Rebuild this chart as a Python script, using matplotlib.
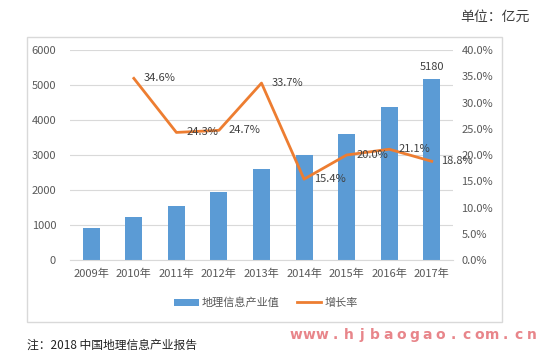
import matplotlib
matplotlib.use("Agg")
import matplotlib.pyplot as plt
from matplotlib.patches import Rectangle
from matplotlib.ticker import FuncFormatter

plt.rcParams['font.family'] = ['Noto Sans CJK SC', 'DejaVu Sans']

years = ["2009年", "2010年", "2011年", "2012年", "2013年", "2014年", "2015年", "2016年", "2017年"]
output_value = [920, 1240, 1540, 1930, 2600, 3000, 3600, 4360, 5180]
rate_years = ["2010年", "2011年", "2012年", "2013年", "2014年", "2015年", "2016年", "2017年"]
growth_rate = [34.6, 24.3, 24.7, 33.7, 15.4, 20.0, 21.1, 18.8]

bar_color = "#5b9bd5"
line_color = "#ed7d31"
text_color = "#595959"
grid_color = "#d9d9d9"

fig = plt.figure(figsize=(5.39, 3.62), dpi=100)
fig.patch.set_facecolor("white")

# chart frame
frame = Rectangle((27/539, 1-322/362), (502-27)/539, (322-37)/362, transform=fig.transFigure,
                  fill=False, edgecolor="#d9d9d9", linewidth=1.0)
fig.add_artist(frame)

ax = fig.add_axes([70/539, 1-260/362, (453-70)/539, (260-50)/362])
x = list(range(len(years)))
bars = ax.bar(x, output_value, width=0.4, color=bar_color, label="地理信息产业值", zorder=2)
ax.set_xlim(-0.5, len(years)-0.5)
ax.set_ylim(0, 6000)
ax.set_yticks(range(0, 6001, 1000))
ax.set_xticks(x)
ax.set_xticklabels(years)
ax.tick_params(axis='both', length=0, colors=text_color, labelsize=8)
ax.tick_params(axis='y', pad=10)
ax.tick_params(axis='x', pad=6)
ax.grid(axis='y', color=grid_color, linewidth=0.8, zorder=0)
ax.set_axisbelow(True)
for s in ax.spines.values():
    s.set_visible(False)
ax.spines['bottom'].set_visible(True)
ax.spines['bottom'].set_color(grid_color)

ax.annotate(str(output_value[-1]), (x[-1], output_value[-1]), xytext=(0, 5), textcoords="offset points",
            ha='center', va='bottom', fontsize=8, color="#404040")

ax2 = ax.twinx()
rx = [years.index(y) for y in rate_years]
line, = ax2.plot(rx, growth_rate, color=line_color, linewidth=2.0, label="增长率", zorder=3)
ax2.set_ylim(0, 40)
ax2.set_yticks(range(0, 41, 5))
ax2.yaxis.set_major_formatter(FuncFormatter(lambda v, p: f"{v:.1f}%"))
ax2.tick_params(axis='y', length=0, colors=text_color, labelsize=8, pad=6)
for s in ax2.spines.values():
    s.set_visible(False)

for xi, v in zip(rx, growth_rate):
    ax2.annotate(f"{v:.1f}%", (xi, v), xytext=(7, 0), textcoords="offset points",
                 ha='left', va='center', fontsize=8, color="#404040", zorder=4)

fig.legend([bars, line], ["地理信息产业值", "增长率"], loc='center', bbox_to_anchor=(266/539, 1-303/362),
           ncol=2, frameon=False, fontsize=8, labelcolor=text_color, handlelength=2.2,
           handletextpad=0.3, columnspacing=1.5)

fig.text(460/539, 1-17/362, "单位：亿元", fontsize=10, color="#404040", ha='left', va='center')
fig.text(27/539, 1-345/362, "注：2018 中国地理信息产业报告", fontsize=8.5, color="#222222", ha='left', va='center')

watermark = "www.hjbaogao.com.cn"
for i, ch in enumerate(watermark):
    fig.text((296 + i*13.1)/539, 1-335/362, ch, fontsize=10, color="#e8858a",
             fontweight='bold', ha='center', va='center', family=['DejaVu Sans'])

fig.savefig("out.png", dpi=100, facecolor="white")
